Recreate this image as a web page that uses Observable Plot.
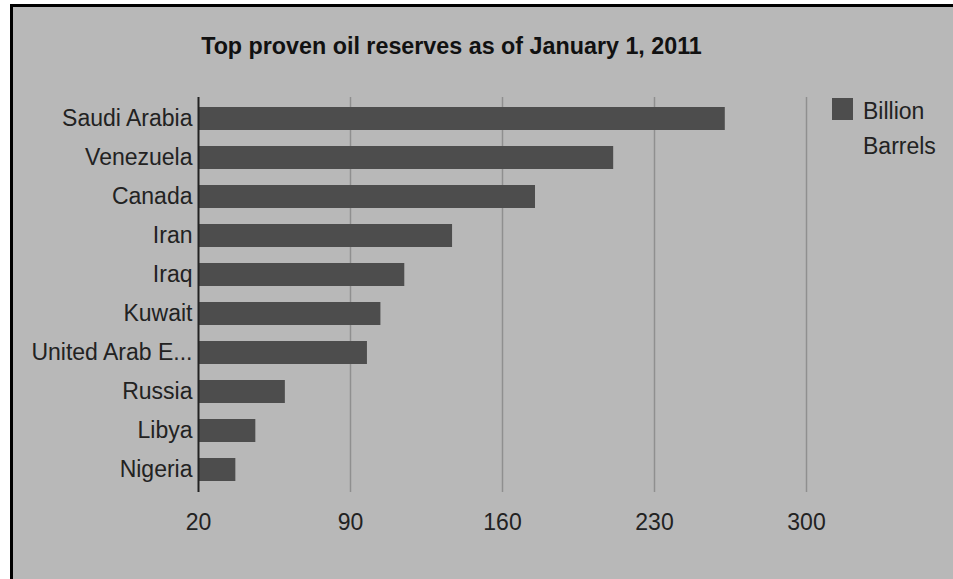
<!DOCTYPE html>
<html>
<head>
<meta charset="utf-8">
<script src="https://cdn.jsdelivr.net/npm/d3@7"></script>
<script src="https://cdn.jsdelivr.net/npm/@observablehq/plot@0.6"></script>
<style>
  html, body { margin: 0; padding: 0; background: #fff; }
  #wrap { position: absolute; left: 0; top: 0; width: 953px; height: 579px; overflow: hidden; }
  #panel { position: absolute; left: 10px; top: 4px; width: 960px; height: 600px;
           background: #b8b8b8; border-top: 3px solid #000; border-left: 3px solid #000; }
  #title { position: absolute; left: 0; width: 903px; top: 33px; text-align: center;
           font: bold 23.3px "Liberation Sans", Arial, sans-serif; color: #111; }
  #chart { position: absolute; left: 0; top: 0; }
  #legend { position: absolute; left: 832px; top: 98px; font: 23px "Liberation Sans", Arial, sans-serif; color: #222; }
  #legend .sw { position: absolute; left: 0; top: 0; width: 21px; height: 22px; background: #4d4d4d; }
  #legend .tx { position: absolute; left: 31px; top: -4px; line-height: 35px; white-space: nowrap; }
</style>
</head>
<body>
<div id="wrap">
  <div id="panel"></div>
  <div id="chart"></div>
  <div id="title">Top proven oil reserves as of January 1, 2011</div>
  <div id="legend"><div class="sw"></div><div class="tx">Billion<br>Barrels</div></div>
</div>
<script>
const countries = ["Saudi Arabia", "Venezuela", "Canada", "Iran", "Iraq", "Kuwait", "United Arab E...", "Russia", "Libya", "Nigeria"];
const reserves = [262.6, 211.2, 175.2, 137.0, 115.0, 104.0, 97.8, 60.0, 46.4, 37.2];
const xTicks = [20, 90, 160, 230, 300];
const seriesName = "Billion Barrels";

const data = countries.map((c, i) => ({country: c, value: reserves[i]}));

const chart = Plot.plot({
  width: 953,
  height: 579,
  marginLeft: 198,
  marginRight: 147,
  marginTop: 97,
  marginBottom: 87,
  style: {background: "transparent", fontFamily: "'Liberation Sans', Arial, sans-serif", fontSize: "23px", color: "#222"},
  x: {domain: [20, 300], ticks: xTicks, tickSize: 0, tickPadding: 21, label: null},
  y: {domain: countries, paddingInner: 0.41, paddingOuter: 0.22, tickSize: 0, tickPadding: 6, label: null},
  marks: [
    Plot.ruleX(xTicks.slice(1), {stroke: "#8f8f8f", strokeWidth: 1.5}),
    Plot.barX(data, {y: "country", x1: 20, x2: "value", fill: "#4d4d4d"}),
    Plot.ruleX([20], {stroke: "#222", strokeWidth: 2})
  ]
});
document.getElementById("chart").appendChild(chart);
</script>
</body>
</html>
